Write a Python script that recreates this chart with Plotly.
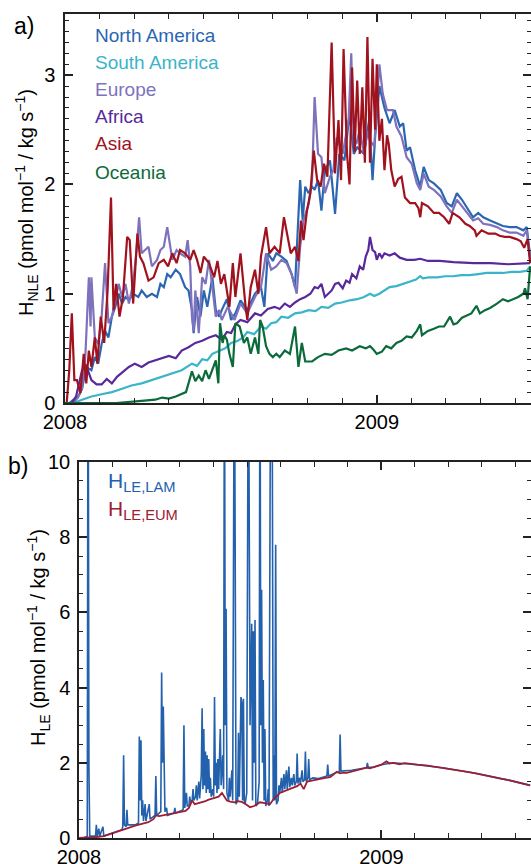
import pandas as pd
import plotly.graph_objects as go

# ---------------- Panel a data (day offset from 2008-01-01, value) ----------------
na_days = [0, 5, 10, 15, 20, 25, 31, 35, 39, 43, 47, 51, 55, 59, 63, 67, 71, 75, 80, 86, 90, 96, 102, 108, 112, 116,
           120, 124, 130, 135, 141, 145, 149, 151, 155, 159, 163, 167, 173, 177, 181, 184, 190, 195, 200, 206, 214,
           223, 230, 234, 238, 244, 248, 254, 260, 266, 270, 274, 276, 279, 282, 286, 290, 293, 297, 301, 305, 311,
           317, 322, 328, 334, 339, 343, 351, 357, 361, 364, 369, 375, 381, 387, 393, 397, 401, 405, 411, 417, 421,
           427, 433, 441, 448, 454, 460, 466, 471, 479, 485, 491, 499, 507, 514, 522, 530, 538, 542, 546]
na_vals = [0, 0, 0.03, 0.05, 0.13, 0.33, 0.30, 0.42, 0.36, 0.54, 0.66, 0.60, 0.79, 0.88, 1.0, 0.91, 0.97, 0.94, 1.0,
           0.97, 1.03, 0.97, 1.0, 0.97, 1.09, 1.06, 1.18, 1.15, 1.22, 1.18, 1.06, 1.03, 0.85, 0.64, 0.97, 0.79, 1.03,
           0.88, 1.15, 0.85, 0.79, 0.85, 0.95, 0.76, 0.82, 0.94, 0.85, 1.0, 1.06, 0.88, 1.37, 1.30, 1.37, 1.34, 1.30,
           1.18, 1.06, 1.67, 2.04, 1.67, 1.98, 1.92, 1.98, 1.95, 2.04, 1.76, 2.13, 2.22, 1.73, 2.28, 2.22, 2.65, 2.28,
           2.34, 2.28, 2.59, 2.04, 2.43, 2.90, 2.70, 2.56, 2.68, 2.53, 2.56, 2.31, 2.34, 2.13, 1.98, 2.16, 2.04, 2.01,
           1.95, 1.83, 1.80, 1.92, 1.86, 1.80, 1.70, 1.74, 1.70, 1.67, 1.64, 1.62, 1.61, 1.61, 1.58, 1.61, 1.34]

sa_days = [0, 10, 20, 31, 43, 55, 67, 78, 90, 102, 114, 126, 137, 149, 155, 161, 167, 173, 181, 188, 195, 203, 209, 214,
           222, 230, 236, 242, 248, 254, 262, 270, 278, 286, 294, 301, 309, 317, 325, 334, 343, 351, 358, 363, 369, 375,
           381, 389, 397, 405, 412, 417, 420, 427, 437, 446, 456, 465, 475, 485, 495, 505, 514, 524, 534, 542, 546]
sa_vals = [0, 0, 0.03, 0.06, 0.08, 0.10, 0.13, 0.16, 0.18, 0.21, 0.24, 0.27, 0.30, 0.36, 0.34, 0.40, 0.39, 0.45, 0.48,
           0.50, 0.55, 0.57, 0.60, 0.65, 0.63, 0.70, 0.68, 0.73, 0.74, 0.79, 0.78, 0.82, 0.83, 0.85, 0.84, 0.88, 0.87,
           0.91, 0.92, 0.94, 0.95, 0.97, 1.0, 0.98, 1.0, 1.03, 1.06, 1.07, 1.09, 1.11, 1.13, 1.16, 1.14, 1.15, 1.15,
           1.16, 1.16, 1.17, 1.17, 1.18, 1.19, 1.19, 1.19, 1.20, 1.20, 1.21, 1.25]

eu_days = [0, 10, 15, 20, 24, 28, 30, 31, 35, 39, 43, 47, 51, 55, 59, 63, 67, 71, 75, 80, 84, 87, 90, 94, 98, 102, 108,
           112, 116, 120, 122, 126, 131, 135, 141, 144, 147, 149, 151, 153, 157, 161, 165, 169, 173, 177, 181, 184, 191,
           199, 206, 214, 223, 230, 236, 242, 248, 254, 260, 266, 272, 276, 280, 286, 290, 293, 297, 301, 305, 311, 315,
           319, 326, 333, 336, 339, 342, 346, 351, 355, 358, 363, 369, 373, 378, 385, 389, 395, 401, 407, 413, 417, 421,
           427, 433, 441, 448, 454, 460, 466, 471, 479, 485, 491, 499, 507, 514, 522, 530, 538, 542, 546]
eu_vals = [0, 0, 0.05, 0.13, 0.45, 1.15, 0.70, 1.15, 0.60, 0.54, 0.79, 1.28, 0.73, 0.79, 0.94, 1.09, 0.97, 1.09, 0.91,
           1.09, 1.40, 1.70, 1.37, 1.40, 1.43, 1.25, 1.31, 1.40, 1.43, 1.61, 1.52, 1.31, 1.40, 1.37, 1.34, 1.49, 1.25,
           0.79, 0.66, 1.03, 0.64, 1.15, 1.09, 1.31, 1.06, 0.79, 0.85, 0.76, 0.88, 0.76, 0.91, 0.82, 0.97, 1.06, 1.37,
           1.22, 1.25, 1.31, 1.28, 1.18, 1.0, 1.43, 1.67, 1.82, 2.04, 2.80, 2.28, 2.25, 1.92, 2.07, 2.13, 2.43, 2.28,
           2.60, 3.20, 2.40, 2.37, 2.50, 2.28, 2.49, 2.40, 2.35, 3.10, 2.83, 2.68, 2.68, 2.53, 2.44, 2.25, 2.19, 2.01,
           1.95, 2.10, 1.98, 1.95, 1.89, 1.80, 1.74, 1.86, 1.80, 1.74, 1.67, 1.69, 1.64, 1.63, 1.61, 1.58, 1.56, 1.56,
           1.53, 1.58, 1.31]

af_days = [0, 8, 13, 17, 20, 25, 28, 31, 37, 43, 49, 55, 61, 67, 75, 82, 90, 98, 106, 114, 122, 130, 137, 145, 153, 161,
           169, 177, 184, 190, 195, 200, 206, 214, 223, 230, 238, 246, 252, 258, 264, 270, 276, 282, 288, 293, 297, 301,
           305, 309, 313, 317, 321, 326, 330, 334, 337, 342, 346, 350, 353, 356, 358, 361, 364, 366, 369, 372, 375, 381,
           387, 393, 401, 410, 417, 426, 440, 456, 480, 500, 520, 546]
af_vals = [0, 0, 0.06, 0.20, 0.30, 0.34, 0.27, 0.21, 0.17, 0.17, 0.22, 0.18, 0.24, 0.28, 0.33, 0.36, 0.33, 0.37, 0.39,
           0.41, 0.43, 0.41, 0.48, 0.51, 0.55, 0.57, 0.60, 0.62, 0.58, 0.65, 0.64, 0.72, 0.76, 0.74, 0.82, 0.80, 0.86,
           0.88, 0.86, 0.91, 0.88, 0.92, 0.95, 0.97, 1.0, 1.06, 1.05, 1.09, 0.97, 1.0, 1.03, 1.09, 1.10, 1.05, 1.12,
           1.10, 1.18, 1.14, 1.25, 1.22, 1.34, 1.40, 1.52, 1.40, 1.38, 1.31, 1.37, 1.33, 1.37, 1.35, 1.37, 1.33, 1.31,
           1.31, 1.32, 1.30, 1.30, 1.29, 1.28, 1.28, 1.27, 1.28]

as_days = [0, 2, 5, 8, 11, 14, 18, 22, 25, 28, 31, 35, 38, 42, 46, 50, 54, 57, 60, 64, 68, 73, 76, 80, 85, 88, 92, 98,
           104, 110, 116, 121, 126, 131, 135, 141, 147, 151, 155, 159, 163, 169, 175, 179, 183, 187, 193, 197, 200, 206,
           212, 214, 218, 223, 227, 230, 236, 240, 246, 252, 257, 261, 265, 270, 274, 277, 280, 284, 288, 292, 296, 300,
           304, 308, 313, 317, 321, 324, 327, 331, 334, 337, 340, 343, 346, 349, 352, 355, 358, 361, 364, 366, 369, 372,
           375, 378, 380, 383, 387, 391, 395, 399, 405, 411, 415, 417, 419, 426, 433, 439, 445, 451, 455, 463, 470, 475,
           481, 483, 489, 497, 505, 510, 516, 522, 530, 535, 539, 543, 546]
as_vals = [0, 0, 0.30, 0.82, 0.21, 0.21, 0.09, 0.45, 0.18, 0.48, 0.33, 0.60, 0.36, 0.79, 0.55, 1.03, 1.88, 0.85, 1.09,
           0.79, 0.97, 1.52, 1.49, 0.91, 1.55, 1.34, 1.28, 1.12, 1.15, 1.28, 1.31, 1.25, 1.37, 1.28, 1.40, 1.37, 1.31,
           1.40, 1.31, 1.19, 1.34, 1.28, 1.15, 1.30, 1.09, 1.18, 0.88, 1.28, 0.97, 1.37, 0.88, 0.76, 1.06, 1.22, 1.0,
           1.34, 1.61, 1.37, 1.43, 1.37, 1.70, 1.52, 1.37, 1.43, 1.30, 1.67, 1.49, 1.76, 1.92, 2.31, 2.04, 1.98, 2.19,
           2.07, 3.30, 2.10, 2.59, 2.04, 3.24, 2.28, 2.0, 3.07, 2.30, 2.95, 2.28, 2.89, 2.20, 3.35, 2.20, 3.15, 2.50,
           3.10, 2.40, 2.60, 2.13, 2.45, 2.37, 2.13, 1.98, 2.05, 2.07, 1.88, 1.83, 1.83, 1.78, 1.70, 1.83, 1.80, 1.74,
           1.74, 1.70, 1.64, 1.74, 1.70, 1.64, 1.62, 1.58, 1.53, 1.58, 1.55, 1.55, 1.53, 1.52, 1.52, 1.50, 1.48, 1.42,
           1.50, 1.28]

oc_days = [0, 60, 90, 106, 114, 122, 130, 137, 142, 145, 149, 153, 157, 161, 165, 169, 173, 177, 180, 182, 185, 187, 190,
           193, 197, 200, 205, 210, 214, 218, 223, 227, 229, 232, 236, 240, 244, 248, 252, 258, 264, 270, 274, 278, 282,
           290, 297, 305, 313, 321, 330, 337, 346, 353, 358, 362, 366, 372, 377, 383, 389, 395, 401, 407, 413, 417, 419,
           426, 433, 439, 445, 452, 456, 460, 466, 471, 477, 483, 487, 493, 499, 507, 514, 520, 526, 532, 538, 540, 543,
           546]
oc_vals = [0, 0, 0.02, 0.03, 0.05, 0.04, 0.06, 0.08, 0.10, 0.18, 0.29, 0.20, 0.25, 0.20, 0.30, 0.22, 0.30, 0.39, 0.18,
           0.73, 0.55, 0.62, 0.58, 0.45, 0.33, 0.73, 0.70, 0.55, 0.60, 0.45, 0.60, 0.45, 0.76, 0.70, 0.52, 0.45, 0.42,
           0.45, 0.42, 0.48, 0.45, 0.70, 0.33, 0.55, 0.38, 0.38, 0.42, 0.45, 0.44, 0.48, 0.50, 0.48, 0.52, 0.50, 0.52,
           0.49, 0.45, 0.47, 0.52, 0.50, 0.55, 0.57, 0.61, 0.60, 0.66, 0.72, 0.62, 0.66, 0.68, 0.70, 0.70, 0.79, 0.72,
           0.73, 0.78, 0.80, 0.82, 0.89, 0.82, 0.85, 0.87, 0.91, 0.95, 0.93, 0.95, 0.97, 1.0, 1.05, 0.95, 1.25]

# ---------------- Panel b data ----------------
eum_days = [0, 8, 20, 30, 40, 52, 60, 68, 76, 84, 90, 93, 97, 101, 107, 113, 119, 125, 129, 133, 137, 140, 144, 149, 153,
            157, 161, 165, 169, 173, 176, 179, 183, 188, 192, 197, 202, 207, 212, 219, 225, 231, 236, 240, 243, 248, 252,
            256, 260, 264, 268, 272, 276, 282, 288, 292, 298, 304, 308, 312, 316, 320, 324, 330, 336, 342, 348, 352, 356,
            362, 366, 372, 376, 380, 388, 394, 400, 410, 420, 430, 440, 450, 460, 470, 480, 490, 500, 510, 520, 530, 540,
            546]
eum_vals = [0, 0, 0.02, 0.05, 0.13, 0.22, 0.27, 0.33, 0.38, 0.42, 0.50, 0.60, 0.58, 0.60, 0.63, 0.66, 0.68, 0.70, 0.72,
            0.80, 1.0, 0.90, 0.92, 0.95, 0.98, 1.02, 1.05, 1.08, 1.10, 1.20, 1.10, 1.0, 0.97, 0.95, 0.98, 0.96, 0.90,
            0.82, 0.85, 0.95, 0.93, 0.90, 1.05, 1.12, 1.20, 1.24, 1.28, 1.32, 1.35, 1.38, 1.45, 1.30, 1.50, 1.53, 1.56,
            1.58, 1.60, 1.62, 1.68, 1.76, 1.72, 1.74, 1.73, 1.77, 1.80, 1.83, 1.87, 1.85, 1.88, 1.92, 1.95, 2.04, 1.98,
            2.0, 1.96, 1.99, 1.97, 1.95, 1.93, 1.90, 1.87, 1.84, 1.80, 1.76, 1.72, 1.68, 1.63, 1.58, 1.54, 1.49, 1.44,
            1.40]

lam_days = [0, 5, 10, 11, 12, 13, 20, 21, 22, 24, 25, 29, 30, 40, 52, 53, 54, 55, 57, 58, 59, 68, 72, 73, 74, 75, 76, 77,
            78, 80, 81, 85, 86, 92, 93, 94, 99, 100, 101, 102, 103, 104, 106, 107, 115, 116, 117, 126, 127, 128, 130, 131,
            133, 134, 135, 137, 138, 139, 141, 142, 143, 145, 146, 148, 149, 150, 151, 152, 153, 154, 155, 156, 157, 158,
            159, 160, 162, 163, 164, 165, 166, 167, 168, 169, 171, 172, 174, 175, 176, 177, 178, 179, 181, 182, 183, 185,
            186, 188, 189, 190, 192, 193, 194, 196, 197, 198, 199, 200, 201, 203, 205, 206, 207, 209, 210, 211, 212, 213,
            214, 216, 218, 219, 220, 221, 222, 223, 224, 225, 226, 228, 229, 230, 232, 233, 234, 235, 236, 237, 238, 239,
            241, 242, 243, 245, 246, 248, 249, 251, 252, 254, 255, 257, 258, 260, 261, 263, 264, 265, 267, 268, 270, 271,
            273, 274, 275, 277, 278, 279, 283, 290, 300, 301, 302, 312, 315, 316, 317, 330, 348, 349, 350, 356, 366, 380,
            400, 440, 480, 520, 546]
lam_vals = [0, 0, 0.05, 15, 1.9, 0.05, 0.05, 0.35, 0.05, 0.25, 0.05, 0.30, 0.05, 0.12, 0.22, 0.30, 2.2, 0.35, 0.30, 0.75,
            0.35, 0.35, 0.40, 2.7, 1.0, 2.6, 0.6, 1.0, 0.45, 0.9, 0.45, 0.9, 0.5, 0.6, 1.65, 0.6, 0.7, 4.4, 2.0, 3.5, 1.5,
            0.7, 0.8, 0.6, 0.66, 0.8, 0.66, 0.75, 3.0, 0.8, 1.2, 0.85, 0.85, 1.1, 0.95, 1.0, 1.3, 1.0, 1.1, 1.4, 1.0, 1.5,
            1.05, 1.7, 3.45, 1.3, 2.9, 1.4, 2.3, 1.2, 2.2, 1.3, 2.1, 1.2, 1.6, 1.1, 1.3, 1.1, 3.75, 1.4, 2.0, 1.2, 2.1, 1.3,
            2.9, 1.4, 2.2, 1.3, 14, 3.0, 6.1, 1.2, 1.0, 1.6, 1.1, 1.8, 1.0, 14, 7.7, 0.9, 1.0, 2.8, 1.1, 3.75, 3.6, 1.0,
            3.7, 1.0, 0.9, 1.2, 14, 9.5, 3.0, 5.7, 1.0, 5.5, 2.0, 5.8, 0.85, 0.9, 1.5, 14, 3.0, 6.6, 2.0, 4.2, 1.0, 2.9,
            0.85, 1.0, 1.3, 0.85, 14, 12, 9.9, 1.0, 2.2, 1.0, 7.8, 0.9, 1.0, 1.4, 1.2, 1.6, 1.2, 1.7, 1.3, 1.8, 1.3, 1.9,
            1.35, 1.6, 1.4, 1.7, 1.4, 1.5, 2.25, 1.45, 1.6, 1.45, 1.8, 1.5, 1.55, 2.3, 1.5, 1.6, 2.1, 1.55, 1.6, 1.58,
            1.65, 1.95, 1.65, 1.75, 1.75, 2.75, 1.78, 1.8, 1.87, 2.0, 1.88, 1.88, 1.95, 2.0, 1.97, 1.87, 1.72, 1.54, 1.40]

regions = ["North America", "South America", "Europe", "Africa", "Asia", "Oceania"]
colors = ["#2B66B1", "#3AB4C8", "#7E72BD", "#57299A", "#A0121E", "#0B6A3A"]
series_days = [na_days, sa_days, eu_days, af_days, as_days, oc_days]
series_vals = [na_vals, sa_vals, eu_vals, af_vals, as_vals, oc_vals]

LAM_COLOR = "#2361AD"
EUM_COLOR = "#9C2034"

t0 = pd.Timestamp("2008-01-01")


def to_dates(days):
    return [t0 + pd.Timedelta(days=d) for d in days]


fig = go.Figure()
for name, col, d, v in zip(regions, colors, series_days, series_vals):
    fig.add_trace(go.Scatter(x=to_dates(d), y=v, mode="lines", name=name,
                             line=dict(color=col, width=2.2), xaxis="x", yaxis="y", showlegend=False))

fig.add_trace(go.Scatter(x=to_dates(lam_days), y=lam_vals, mode="lines", name="LAM",
                         line=dict(color=LAM_COLOR, width=1.6), xaxis="x2", yaxis="y2", showlegend=False))
fig.add_trace(go.Scatter(x=to_dates(eum_days), y=eum_vals, mode="lines", name="EUM",
                         line=dict(color=EUM_COLOR, width=1.8), xaxis="x2", yaxis="y2", showlegend=False))

W, H = 531, 864
FONT = "Liberation Sans, Arial, sans-serif"

# minor x ticks: 9 intervals per year
minor_x = [t0 + pd.Timedelta(days=k * 366 / 9) for k in range(1, 9)]
minor_x += [pd.Timestamp("2009-01-01") + pd.Timedelta(days=k * 365 / 9) for k in range(1, 5)]

x_range = ["2008-01-01", "2009-07-01"]

common_x = dict(range=x_range, tickvals=["2008-01-01", "2009-01-01"], ticktext=["2008", "2009"],
                ticks="inside", ticklen=8, tickwidth=1.5, tickcolor="#222", showline=True, linewidth=1.5,
                linecolor="#222", mirror="ticks", showgrid=False, zeroline=False, automargin=False,
                tickfont=dict(size=20, color="black", family=FONT),
                minor=dict(tickvals=minor_x, ticks="inside", ticklen=5, tickwidth=1.2, tickcolor="#222",
                           showgrid=False))

fig.update_layout(
    width=W, height=H, margin=dict(l=0, r=0, t=0, b=0, autoexpand=False),
    plot_bgcolor="white", paper_bgcolor="white",
    font=dict(family=FONT, color="black"),
    xaxis=dict(domain=[65 / W, 1.0], anchor="y", **common_x),
    yaxis=dict(domain=[1 - 403 / H, 1 - 14 / H], anchor="x", range=[0, 3.56], tickvals=[0, 1, 2, 3],
               ticks="inside", ticklen=8, tickwidth=1.5, tickcolor="#222", showline=True, linewidth=1.5,
               linecolor="#222", mirror="ticks", showgrid=False, zeroline=False, ticklabelstandoff=4,
               automargin=False, tickfont=dict(size=20, color="black", family=FONT),
               minor=dict(dtick=0.1, tick0=0, ticks="inside", ticklen=4, tickwidth=1.2, tickcolor="#222",
                          showgrid=False)),
    xaxis2=dict(domain=[79 / W, 1.0], anchor="y2", **common_x),
    yaxis2=dict(domain=[1 - 838 / H, 1 - 462 / H], anchor="x2", range=[0, 10], tickvals=[0, 2, 4, 6, 8, 10],
                ticks="inside", ticklen=8, tickwidth=1.5, tickcolor="#222", showline=True, linewidth=1.5,
                linecolor="#222", mirror="ticks", showgrid=False, zeroline=False, ticklabelstandoff=3,
                automargin=False, tickfont=dict(size=20, color="black", family=FONT),
                minor=dict(dtick=0.5, tick0=0, ticks="inside", ticklen=4, tickwidth=1.2, tickcolor="#222",
                           showgrid=False)),
)

ann = []
# panel letters
ann.append(dict(text="a)", x=24 / W, y=1 - 26 / H, xref="paper", yref="paper", showarrow=False,
                font=dict(size=23, color="black"), xanchor="center", yanchor="middle"))
ann.append(dict(text="b)", x=18 / W, y=1 - 466 / H, xref="paper", yref="paper", showarrow=False,
                font=dict(size=23, color="black"), xanchor="center", yanchor="middle"))
# axis titles
ann.append(dict(text="H<sub>NLE</sub> (pmol mol<sup>−1</sup> / kg s<sup>−1</sup>)", x=26 / W, y=1 - 203 / H,
                xref="paper", yref="paper", showarrow=False, textangle=-90,
                font=dict(size=20, color="black"), xanchor="center", yanchor="middle"))
ann.append(dict(text="H<sub>LE</sub> (pmol mol<sup>−1</sup> / kg s<sup>−1</sup>)", x=38 / W, y=1 - 638 / H,
                xref="paper", yref="paper", showarrow=False, textangle=-90,
                font=dict(size=20, color="black"), xanchor="center", yanchor="middle"))
# panel a legend
leg_y = [35, 62, 90, 117, 144, 172]
for name, col, yy in zip(regions, colors, leg_y):
    ann.append(dict(text=name, x=93 / W, y=1 - yy / H, xref="paper", yref="paper", showarrow=False,
                    font=dict(size=19, color=col), xanchor="left", yanchor="middle"))
# panel b legend
ann.append(dict(text="H<sub>LE,LAM</sub>", x=106 / W, y=1 - 482 / H, xref="paper", yref="paper", showarrow=False,
                font=dict(size=21, color=LAM_COLOR), xanchor="left", yanchor="middle"))
ann.append(dict(text="H<sub>LE,EUM</sub>", x=106 / W, y=1 - 510 / H, xref="paper", yref="paper", showarrow=False,
                font=dict(size=21, color=EUM_COLOR), xanchor="left", yanchor="middle"))
fig.update_layout(annotations=ann)

fig.write_html("out.html", config={"displayModeBar": False},
               post_script="document.body.style.margin='0';document.body.style.overflow='hidden';")
